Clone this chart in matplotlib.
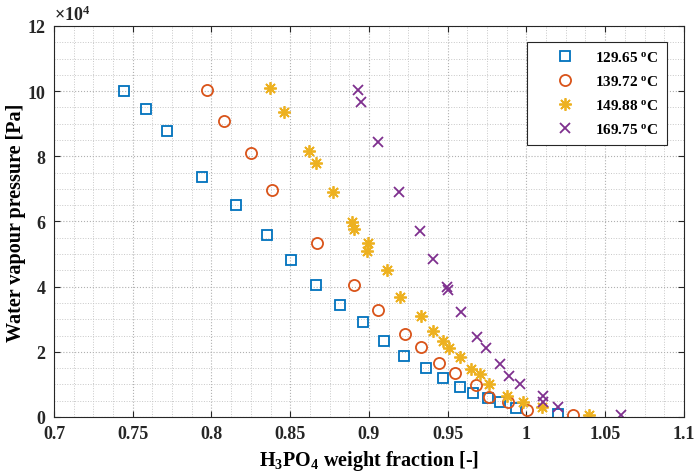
import matplotlib
matplotlib.use("Agg")
import matplotlib.pyplot as plt
from matplotlib.ticker import MultipleLocator, FuncFormatter

plt.rcParams['font.family'] = ['Liberation Serif', 'DejaVu Serif']
plt.rcParams['font.weight'] = 'bold'
plt.rcParams['mathtext.fontset'] = 'custom'
plt.rcParams['mathtext.rm'] = 'Liberation Serif:bold'
plt.rcParams['mathtext.bf'] = 'Liberation Serif:bold'
plt.rcParams['mathtext.it'] = 'Liberation Serif:bold:italic'

# weight fraction of H3PO4 and water vapour pressure [Pa], per temperature
x_129 = [0.7444, 0.7582, 0.7719, 0.794, 0.8157, 0.8354, 0.8507, 0.8663, 0.8816, 0.8962,
         0.9095, 0.9224, 0.936, 0.9468, 0.9576, 0.9662, 0.9754, 0.9832, 0.9933, 1.0202]
p_129 = [99900, 94500, 87700, 73600, 65000, 55900, 48200, 40600, 34400, 29200,
         23300, 18700, 15100, 12000, 9200, 7300, 5800, 4600, 2700, 900]

x_139 = [0.797, 0.8077, 0.8249, 0.8384, 0.867, 0.8905, 0.906, 0.923, 0.9328, 0.9442,
         0.9546, 0.9678, 0.9764, 0.988, 1.0001, 1.0293]
p_139 = [100300, 90900, 81100, 69700, 53300, 40600, 32800, 25400, 21500, 16700,
         13600, 9700, 6000, 4500, 2200, 700]

x_149 = [0.837, 0.8458, 0.8621, 0.8663, 0.8769, 0.8894, 0.8905, 0.8994, 0.8986, 0.9116,
         0.9197, 0.9328, 0.9408, 0.9468, 0.9508, 0.958, 0.9646, 0.9707, 0.9764, 0.9878,
         0.9978, 1.010, 1.0399]
p_149 = [100900, 93700, 81500, 77900, 69200, 59900, 57700, 53500, 50800, 45100,
         36700, 31000, 26300, 23400, 21100, 18300, 14800, 13200, 10100, 6500,
         4500, 3000, 600]

x_169 = [0.8932, 0.8947, 0.906, 0.919, 0.9322, 0.9408, 0.9497, 0.95, 0.9582, 0.9688,
         0.9743, 0.9832, 0.9891, 0.9961, 1.0103, 1.0105, 1.0198, 1.0598]
p_169 = [100300, 96700, 84300, 69200, 57100, 48500, 39900, 38900, 32300, 24700,
         21100, 16400, 12700, 10100, 6300, 4500, 3200, 700]

labels = ['129.65 $^\\mathrm{o}$C', '139.72 $^\\mathrm{o}$C',
          '149.88 $^\\mathrm{o}$C', '169.75 $^\\mathrm{o}$C']

fig = plt.figure(figsize=(6.95, 4.77), dpi=100)
ax = fig.add_axes([0.0777, 0.1237, 0.9063, 0.8197])

ax.plot(x_129, p_129, 's', ls='none', mfc='none', mec='#0072BD', ms=6.5, mew=1.3, label=labels[0])
ax.plot(x_139, p_139, 'o', ls='none', mfc='none', mec='#D95319', ms=8, mew=1.3, label=labels[1])
ax.plot(x_149, p_149, marker=(8, 2, 0), ls='none', color='#EDB120', mec='#EDB120', ms=9, mew=1.3, label=labels[2])
ax.plot(x_169, p_169, 'x', ls='none', color='#7E2F8E', mec='#7E2F8E', ms=7.5, mew=1.3, label=labels[3])

ax.set_xlim(0.7, 1.1)
ax.set_ylim(0, 120000)
ax.xaxis.set_major_locator(MultipleLocator(0.05))
ax.xaxis.set_minor_locator(MultipleLocator(0.0125))
ax.yaxis.set_major_locator(MultipleLocator(20000))
ax.yaxis.set_minor_locator(MultipleLocator(5000))
ax.xaxis.set_major_formatter(FuncFormatter(lambda v, p: f'{v:g}'))
ax.yaxis.set_major_formatter(FuncFormatter(lambda v, p: f'{v / 1e4:g}'))

ax.grid(True, which='major', ls=':', color='#b0b0b0', lw=0.8)
ax.grid(True, which='minor', ls=':', color='#c8c8c8', lw=0.7)
ax.set_axisbelow(True)

ax.tick_params(which='major', direction='in', top=True, right=True, length=4,
               width=0.8, colors='#262626', labelsize=13, pad=6)
ax.tick_params(which='minor', length=0)
for lab in ax.get_xticklabels() + ax.get_yticklabels():
    lab.set_fontweight('bold')
for s in ax.spines.values():
    s.set_color('#262626')
    s.set_linewidth(0.8)

ax.text(0.0, 1.004, '$\\times$10$^4$', transform=ax.transAxes, fontsize=13,
        ha='left', va='bottom', color='#262626')

ax.set_xlabel('H$_3$PO$_4$ weight fraction [-]', fontsize=14.5, fontweight='bold', labelpad=4)
ax.set_ylabel('Water vapour pressure [Pa]', fontsize=14.5, fontweight='bold', labelpad=1.5)

leg = ax.legend(loc='upper right', bbox_to_anchor=(0.973, 0.959), borderaxespad=0,
                fancybox=False, framealpha=1, edgecolor='#262626', fontsize=11,
                labelspacing=0.65, handletextpad=0.1, borderpad=0.55, handlelength=3.8)
leg.get_frame().set_linewidth(0.8)
for t in leg.get_texts():
    t.set_fontweight('bold')

fig.savefig('out.png', dpi=100)
